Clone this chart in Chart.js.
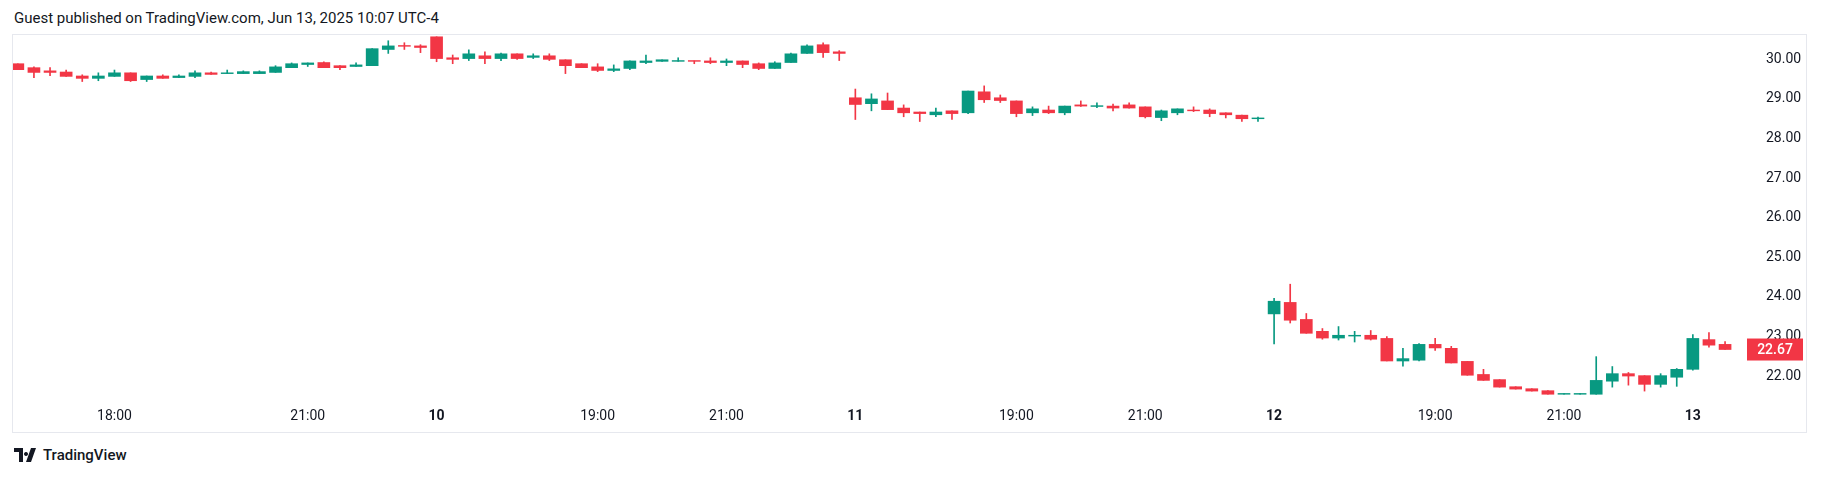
<!DOCTYPE html>
<html>
<head>
<meta charset="utf-8">
<script src="https://cdn.jsdelivr.net/npm/chart.js@4"></script>
<style>
  body { margin: 0; background: #fff; font-family: Roboto, "Noto Sans", sans-serif; color: #131722; }
  #title { position: absolute; left: 14px; top: 9px; font-size: 15px; }
  #frame { position: absolute; left: 12px; top: 34px; width: 1795px; height: 399px; border: 1px solid #e6e8ee; box-sizing: border-box; }
  #logo { position: absolute; left: 14px; top: 446px; font-size: 15px; display: flex; align-items: center; gap: 5px; }
</style>
</head>
<body>
<div id="title">Guest published on TradingView.com, Jun 13, 2025 10:07 UTC-4</div>
<div id="frame"><canvas id="chart"></canvas></div>
<div id="logo">
  <svg width="24" height="14" viewBox="0 0 24 14"><path d="M0 0h9v14H5V4H0z M12 4a2 2 0 1 0 0.01 0z M17 0h5l-5 14h-5z" fill="#131722"/></svg>
  <span style="font-weight:500">TradingView</span>
</div>
<script>
// OHLC per 15-minute candle
const opens = [29.89,29.79,29.71,29.68,29.58,29.52,29.57,29.66,29.49,29.58,29.54,29.57,29.66,29.64,29.64,29.64,29.67,29.79,29.87,29.92,29.84,29.82,29.84,30.25,30.34,30.34,30.57,30.04,30.02,30.09,30.02,30.14,30.05,30.09,29.99,29.89,29.81,29.72,29.77,29.92,29.95,29.95,29.96,29.96,29.92,29.96,29.89,29.77,29.92,30.15,30.37,30.19,
  29.03,28.88,28.95,28.77,28.67,28.60,28.70,28.65,29.18,29.03,28.95,28.65,28.72,28.65,28.85,28.81,28.82,28.85,28.80,28.53,28.65,28.72,28.72,28.65,28.59,28.50,
  23.57,23.86,23.43,23.13,22.96,23.01,23.03,22.95,22.38,22.40,22.80,22.70,22.37,22.04,21.91,21.73,21.68,21.63,21.54,21.54,21.54,21.87,22.06,22.01,21.79,21.97,22.17,22.92,22.80];
const highs = [29.89,29.81,29.79,29.73,29.61,29.66,29.73,29.66,29.58,29.61,29.61,29.71,29.68,29.73,29.71,29.71,29.84,29.91,29.91,29.94,29.84,29.91,30.27,30.47,30.42,30.37,30.57,30.11,30.24,30.19,30.16,30.14,30.14,30.14,29.99,29.89,29.89,29.86,29.96,30.11,29.99,30.04,29.96,30.04,30.01,29.96,29.91,29.94,30.16,30.37,30.42,30.22,
  29.25,29.13,29.15,28.85,28.67,28.77,28.70,29.20,29.33,29.10,28.95,28.80,28.82,28.82,28.95,28.90,28.87,28.90,28.80,28.72,28.75,28.80,28.75,28.65,28.59,28.54,
  23.96,24.32,23.58,23.20,23.25,23.13,23.15,23.00,22.70,22.82,22.95,22.75,22.37,22.17,21.91,21.73,21.68,21.63,21.56,21.56,22.49,22.24,22.09,22.01,22.06,22.19,23.05,23.10,22.87];
const lows = [29.74,29.54,29.59,29.57,29.44,29.46,29.57,29.44,29.44,29.52,29.54,29.54,29.62,29.64,29.64,29.64,29.67,29.79,29.82,29.79,29.74,29.82,29.84,30.15,30.25,30.17,29.94,29.89,29.97,29.89,29.97,30.00,30.02,29.97,29.64,29.79,29.69,29.69,29.74,29.89,29.95,29.95,29.89,29.89,29.84,29.79,29.74,29.77,29.92,30.15,30.05,29.97,
  28.48,28.70,28.73,28.55,28.43,28.55,28.48,28.63,28.91,28.91,28.55,28.58,28.63,28.60,28.81,28.78,28.70,28.77,28.52,28.45,28.60,28.68,28.55,28.52,28.43,28.43,
  22.81,23.34,23.08,22.93,22.91,22.86,22.91,22.38,22.25,22.38,22.65,22.33,22.02,21.89,21.72,21.67,21.62,21.54,21.54,21.54,21.54,21.72,21.77,21.62,21.72,21.74,22.15,22.73,22.67];
const closes = [29.74,29.67,29.67,29.57,29.52,29.58,29.66,29.46,29.58,29.52,29.58,29.66,29.62,29.66,29.69,29.69,29.81,29.89,29.91,29.79,29.79,29.86,30.27,30.34,30.33,30.30,30.02,30.00,30.14,30.02,30.14,30.02,30.09,30.00,29.84,29.79,29.72,29.76,29.96,29.96,29.99,29.96,29.95,29.92,29.96,29.87,29.77,29.91,30.14,30.34,30.17,30.15,
  28.86,29.00,28.73,28.65,28.63,28.67,28.63,29.20,28.98,28.96,28.63,28.75,28.65,28.82,28.82,28.82,28.77,28.77,28.55,28.70,28.75,28.70,28.63,28.60,28.50,28.52,
  23.89,23.41,23.08,22.96,23.03,23.03,22.93,22.38,22.44,22.80,22.71,22.33,22.02,21.89,21.72,21.67,21.62,21.54,21.56,21.56,21.89,22.06,22.00,21.79,22.01,22.17,22.95,22.78,22.67];

const timeTicks = [6, 18, 26, 36, 44, 52, 62, 70, 78, 88, 96, 104];
const timeLabels = ['18:00', '21:00', '10', '19:00', '21:00', '11', '19:00', '21:00', '12', '19:00', '21:00', '13'];
const priceTicks = [22, 23, 24, 25, 26, 27, 28, 29, 30];
const lastPrice = 22.67;

const UP = '#089981', DOWN = '#F23645';
const colors = opens.map((o, i) => closes[i] >= o ? UP : DOWN);
const bodies = opens.map((o, i) => {
  let lo = Math.min(o, closes[i]), hi = Math.max(o, closes[i]);
  if (hi - lo < 0.02) hi = lo + 0.02;
  return { x: i, y: [lo, hi] };
});
const wicks = highs.map((h, i) => ({ x: i, y: [lows[i], h] }));

const priceTag = {
  id: 'priceTag',
  afterDraw(chart) {
    const { ctx, chartArea, scales } = chart;
    const y = scales.y.getPixelForValue(lastPrice);
    ctx.save();
    ctx.fillStyle = DOWN;
    ctx.fillRect(chartArea.right + 1, y - 11, 56, 22);
    ctx.fillStyle = '#fff';
    ctx.font = '500 14px Roboto';
    ctx.textAlign = 'center';
    ctx.textBaseline = 'middle';
    ctx.fillText(lastPrice.toFixed(2), chartArea.right + 29, y + 1);
    ctx.restore();
  }
};

new Chart(document.getElementById('chart'), {
  type: 'bar',
  data: {
    datasets: [
      { data: wicks, backgroundColor: colors, barThickness: 1, grouped: false, order: 2, clip: false },
      { data: bodies, backgroundColor: colors, barThickness: 12, grouped: false, order: 1, clip: false }
    ]
  },
  options: {
    responsive: true,
    maintainAspectRatio: false,
    animation: false,
    layout: { padding: 0 },
    plugins: { legend: { display: false }, tooltip: { enabled: false } },
    scales: {
      x: {
        type: 'linear', min: -0.3, max: 107.3, offset: false,
        grid: { display: false }, border: { display: false },
        afterBuildTicks: s => { s.ticks = timeTicks.map(v => ({ value: v })); },
        afterFit: s => { s.height = 33; },
        ticks: {
          autoSkip: false, maxRotation: 0, padding: 1, color: '#131722',
          font: c => ({ family: 'Roboto', size: 14, weight: /^\d+$/.test(timeLabels[timeTicks.indexOf(c.tick && c.tick.value)] || '') ? 'bold' : 'normal' }),
          callback: v => timeLabels[timeTicks.indexOf(v)] || ''
        }
      },
      y: {
        position: 'right', min: 21.42, max: 30.10,
        grid: { display: false }, border: { display: false },
        afterBuildTicks: s => { s.ticks = priceTicks.map(v => ({ value: v })); },
        afterFit: s => { s.width = 60; },
        ticks: { padding: 12, color: '#131722', font: { family: 'Roboto', size: 14 }, callback: v => v.toFixed(2) }
      }
    }
  },
  plugins: [priceTag]
});
</script>
</body>
</html>
